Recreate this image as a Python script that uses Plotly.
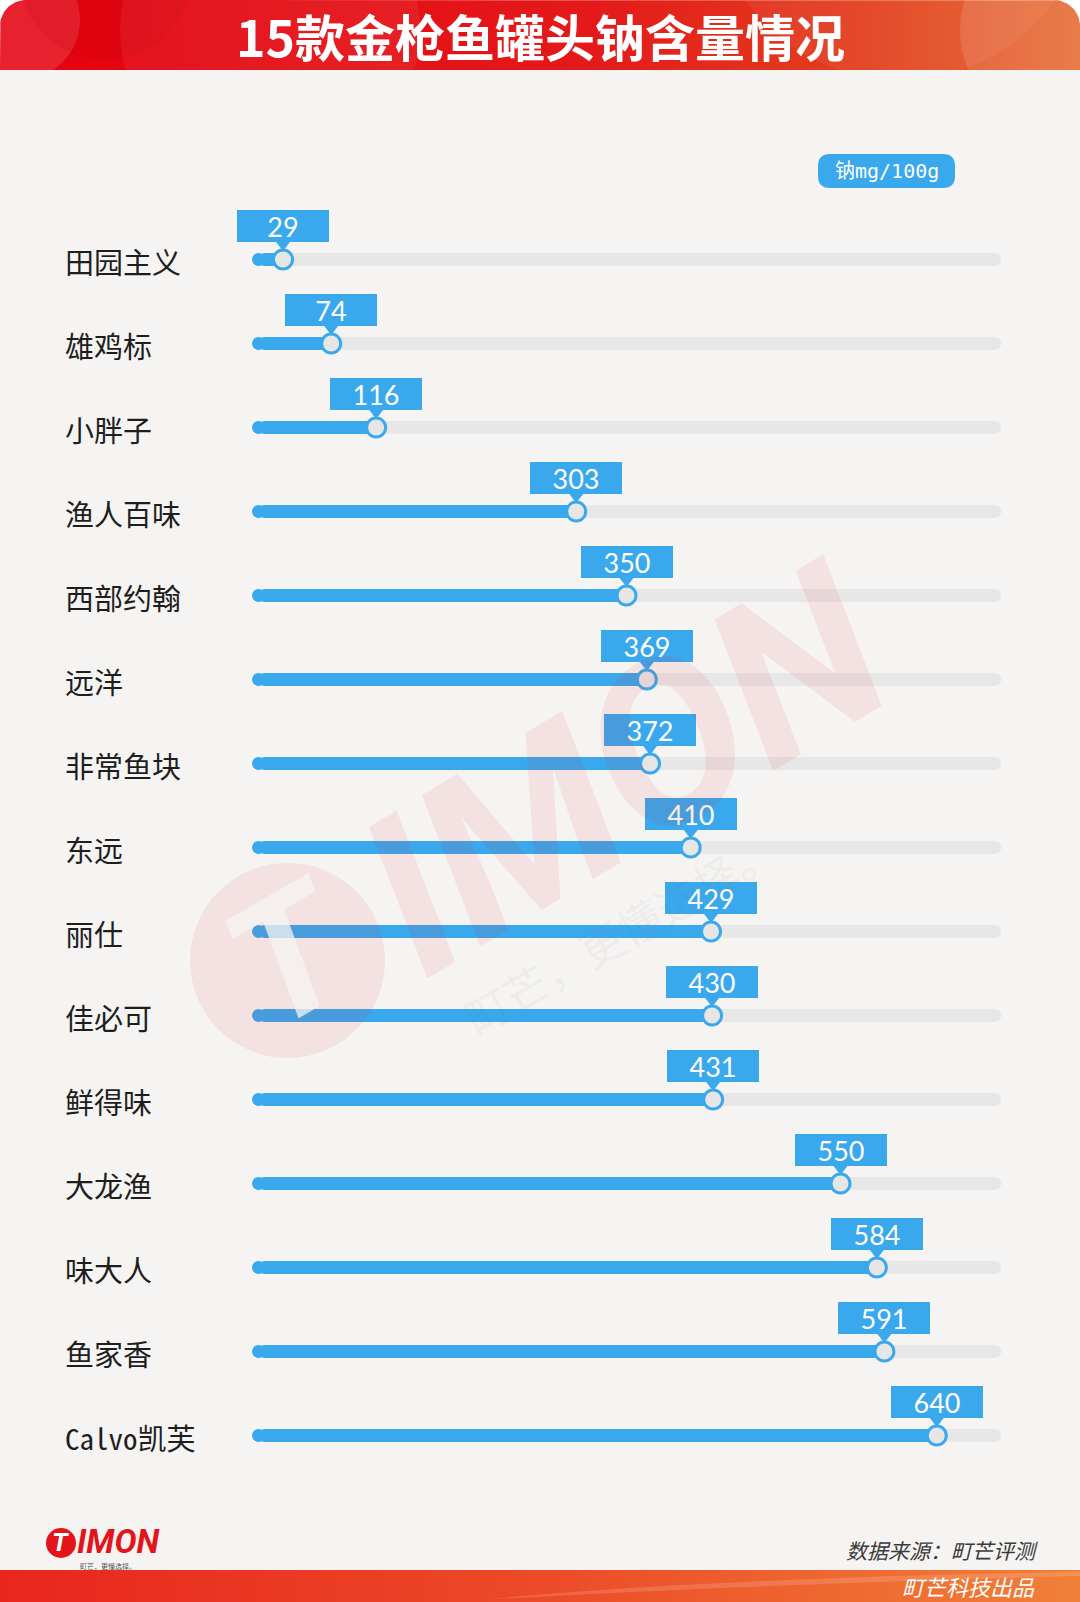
import numpy as np
import plotly.graph_objects as go

W, H = 1080, 1602

# ---------------- data ----------------
brands = ["田园主义", "雄鸡标", "小胖子", "渔人百味", "西部约翰", "远洋", "非常鱼块", "东远",
          "丽仕", "佳必可", "鲜得味", "大龙渔", "味大人", "鱼家香", "Calvo凯芙"]
sodium = [29, 74, 116, 303, 350, 369, 372, 410, 429, 430, 431, 550, 584, 591, 640]
track_max = 700
title = "15款金枪鱼罐头钠含量情况"
unit_label = "钠mg/100g"
source_text = "数据来源：町芒评测"
producer_text = "町芒科技出品"
logo_text = "IMON"
logo_tag = "町芒，更懂选择。"

# ---------------- style ----------------
BLUE = "#3AA8EC"
TRACK = "#E7E7E7"
BG = "#F5F4F2"
CJK = "Noto Sans CJK SC"
LABEL_FONT = "Noto Sans Mono CJK SC, Noto Sans CJK SC, sans-serif"
MONO = "DejaVu Sans Mono, Noto Sans CJK SC, monospace"


def px(x):
    return x / W


def py(y):
    return 1 - y / H


rows = list(range(len(brands)))
ROW0, STEP = 259.5, 84.0
y_top = ROW0 - 0.7 * STEP
y_bot = ROW0 + (len(brands) - 1 + 0.7) * STEP
BAR_PX = 13
BAR_W = BAR_PX / STEP
X0_PX, X1_PX = 252, 1001
UNIT_PX = (X1_PX - X0_PX) / track_max
CAP = (BAR_PX / 2) / UNIT_PX          # round-cap radius in data units
caps = [CAP] * len(rows)

fig = go.Figure()

# tracks (rounded right end by cornerradius, left end by round cap)
fig.add_trace(go.Bar(y=rows, x=[track_max - CAP] * len(rows), base=caps, orientation="h", width=BAR_W,
                     marker=dict(color=TRACK, cornerradius=7, line=dict(width=0)),
                     hoverinfo="skip", showlegend=False))
# values
fig.add_trace(go.Bar(y=rows, x=[v - CAP for v in sodium], base=caps, orientation="h", width=BAR_W,
                     marker=dict(color=BLUE, cornerradius=7, line=dict(width=0)),
                     hoverinfo="skip", showlegend=False))
# left round caps
fig.add_trace(go.Scatter(x=caps, y=rows, mode="markers",
                         marker=dict(size=BAR_PX, color=BLUE, line=dict(width=0)),
                         cliponaxis=False, hoverinfo="skip", showlegend=False))
# pointer triangles
fig.add_trace(go.Scatter(x=sodium, y=[r - 14.5 / STEP for r in rows], mode="markers",
                         marker=dict(symbol="triangle-down", size=12, color=BLUE, line=dict(width=0)),
                         cliponaxis=False, hoverinfo="skip", showlegend=False))
# knobs
fig.add_trace(go.Scatter(x=sodium, y=rows, mode="markers",
                         marker=dict(size=19, color="#E6E6E6", line=dict(color=BLUE, width=3)),
                         cliponaxis=False, hoverinfo="skip", showlegend=False))

annotations = []
for r, name, v in zip(rows, brands, sodium):
    annotations.append(dict(x=px(63), xref="paper", y=r, yref="y", text=name, showarrow=False,
                            xanchor="left", yanchor="middle", yshift=-1,
                            font=dict(family=LABEL_FONT, size=29, color="#1E1E1E")))
    annotations.append(dict(x=v, xref="x", y=r, yref="y", text=str(v), showarrow=False,
                            xanchor="center", yanchor="bottom", yshift=18,
                            width=92, height=32, bgcolor=BLUE, borderpad=0, borderwidth=0,
                            valign="middle",
                            font=dict(family="Lato, Open Sans, sans-serif", size=27, color="white")))

# header band (gradient) on its own subplot
R = 26
pts_x, pts_y = [0], [70]
for a in np.linspace(np.pi, 1.5 * np.pi, 20):
    pts_x.append(R + R * np.cos(a)); pts_y.append(R + R * np.sin(a))
for a in np.linspace(1.5 * np.pi, 2 * np.pi, 20):
    pts_x.append(W - R + R * np.cos(a)); pts_y.append(R + R * np.sin(a))
pts_x += [W, 0]; pts_y += [70, 70]
fig.add_trace(go.Scatter(x=pts_x, y=pts_y, xaxis="x2", yaxis="y2", mode="lines", fill="toself",
                         line=dict(width=0, color="rgba(0,0,0,0)"),
                         fillgradient=dict(type="horizontal",
                                           colorscale=[[0, "#E4000F"], [0.55, "#E41A1A"], [0.8, "#E2401F"], [1, "#E56A30"]]),
                         hoverinfo="skip", showlegend=False))
# footer band
fig.add_trace(go.Scatter(x=[0, W, W, 0, 0], y=[1570, 1570, 1602, 1602, 1570], xaxis="x3", yaxis="y3",
                         mode="lines", fill="toself", line=dict(width=0, color="rgba(0,0,0,0)"),
                         fillgradient=dict(type="horizontal",
                                           colorscale=[[0, "#E8261D"], [0.5, "#EC4A28"], [1, "#F08038"]]),
                         hoverinfo="skip", showlegend=False))

shapes = [
    # white behind header corners
    dict(type="rect", xref="paper", yref="paper", x0=0, x1=1, y0=py(40), y1=1,
         fillcolor="white", line=dict(width=0), layer="below"),
    # header decorative circles
    dict(type="circle", xref="x2", yref="y2", x0=-40, x1=80, y0=-40, y1=80,
         fillcolor="rgba(255,255,255,0.13)", line=dict(width=0), layer="above"),
    dict(type="circle", xref="x2", yref="y2", x0=20, x1=190, y0=-110, y1=60,
         fillcolor="rgba(180,0,10,0.12)", line=dict(width=0), layer="above"),
    dict(type="circle", xref="x2", yref="y2", x0=120, x1=420, y0=-120, y1=180,
         fillcolor="rgba(255,255,255,0.06)", line=dict(width=0), layer="above"),
    dict(type="circle", xref="x2", yref="y2", x0=960, x1=1160, y0=-70, y1=130,
         fillcolor="rgba(255,255,255,0.12)", line=dict(width=0), layer="above"),
    dict(type="circle", xref="x2", yref="y2", x0=1090 - 380, x1=1090, y0=-300, y1=80,
         fillcolor="rgba(255,255,255,0.05)", line=dict(width=0), layer="above"),
    # footer streak
    dict(type="path", xref="x3", yref="y3",
         path="M 480 1600 Q 700 1578 1080 1572 L 1080 1576 Q 760 1584 480 1600 Z",
         fillcolor="rgba(255,255,255,0.15)", line=dict(width=0), layer="above"),
    # watermark bubble
    dict(type="circle", xref="paper", yref="paper", x0=px(190), x1=px(385), y0=py(1058), y1=py(863),
         fillcolor="rgba(230,40,50,0.09)", line=dict(width=0), layer="above"),
    # logo circle
    dict(type="circle", xref="paper", yref="paper", x0=px(46), x1=px(76), y0=py(1558), y1=py(1528),
         fillcolor="#E3141B", line=dict(width=0), layer="above"),
]

# unit badge (rounded rect)
bx0, bx1, by0, by1, rr = 818, 955, 154, 188, 12
badge = (f"M {px(bx0 + rr)} {py(by0)} L {px(bx1 - rr)} {py(by0)} Q {px(bx1)} {py(by0)} {px(bx1)} {py(by0 + rr)} "
         f"L {px(bx1)} {py(by1 - rr)} Q {px(bx1)} {py(by1)} {px(bx1 - rr)} {py(by1)} "
         f"L {px(bx0 + rr)} {py(by1)} Q {px(bx0)} {py(by1)} {px(bx0)} {py(by1 - rr)} "
         f"L {px(bx0)} {py(by0 + rr)} Q {px(bx0)} {py(by0)} {px(bx0 + rr)} {py(by0)} Z")
shapes.append(dict(type="path", xref="paper", yref="paper", path=badge,
                   fillcolor=BLUE, line=dict(width=0), layer="above"))

annotations += [
    dict(x=0.5, y=py(35), xref="paper", yref="paper", text=f"<b>{title}</b>", showarrow=False,
         xanchor="center", yanchor="middle", font=dict(family=CJK, size=50, color="white", weight=900)),
    dict(x=px((bx0 + bx1) / 2), y=py((by0 + by1) / 2), xref="paper", yref="paper", text=unit_label,
         showarrow=False, xanchor="center", yanchor="middle",
         font=dict(family=MONO, size=20, color="white")),
    # watermark
    dict(x=px(292), y=py(955), xref="paper", yref="paper", text="<b><i>T</i></b>", showarrow=False,
         textangle=-30, xanchor="center", yanchor="middle",
         font=dict(family="Roboto, sans-serif", size=170, color="rgba(245,244,242,0.75)")),
    dict(x=px(625), y=py(770), xref="paper", yref="paper", text="<b><i>IMON</i></b>", showarrow=False,
         textangle=-31, xanchor="center", yanchor="middle",
         font=dict(family="Roboto, sans-serif", size=225, color="rgba(230,40,50,0.09)")),
    dict(x=px(620), y=py(932), xref="paper", yref="paper", text="町芒，更懂选择。", showarrow=False,
         textangle=-30, xanchor="center", yanchor="middle",
         font=dict(family=CJK, size=44, color="rgba(120,120,120,0.08)")),
    # logo
    dict(x=px(61), y=py(1542), xref="paper", yref="paper", text="<b><i>T</i></b>", showarrow=False,
         xanchor="center", yanchor="middle", font=dict(family="Roboto", size=26, color="white")),
    dict(x=px(75), y=py(1541), xref="paper", yref="paper", text=f"<b><i>{logo_text}</i></b>", showarrow=False,
         xanchor="left", yanchor="middle", font=dict(family="Roboto", size=33, color="#E3141B")),
    dict(x=px(78), y=py(1566), xref="paper", yref="paper", text=logo_tag, showarrow=False,
         xanchor="left", yanchor="middle", font=dict(family=CJK, size=7, color="#555")),
    # footer texts
    dict(x=px(1040), y=py(1550), xref="paper", yref="paper", text=f"<i>{source_text}</i>", showarrow=False,
         xanchor="right", yanchor="middle", font=dict(family=CJK, size=21, color="#3A3A3A")),
    dict(x=px(1037), y=py(1586), xref="paper", yref="paper", text=f"<i>{producer_text}</i>", showarrow=False,
         xanchor="right", yanchor="middle", font=dict(family=CJK, size=22, color="white")),
]

fig.update_layout(
    width=W, height=H, autosize=False,
    margin=dict(l=0, r=0, t=0, b=0, pad=0),
    paper_bgcolor=BG, plot_bgcolor="rgba(0,0,0,0)",
    barmode="overlay", showlegend=False,
    xaxis=dict(domain=[px(X0_PX), px(X1_PX)], range=[0, track_max], visible=False, fixedrange=True),
    yaxis=dict(domain=[py(y_bot), py(y_top)], range=[len(brands) - 1 + 0.7, -0.7],
               visible=False, fixedrange=True),
    xaxis2=dict(domain=[0, 1], range=[0, W], anchor="y2", visible=False, fixedrange=True),
    yaxis2=dict(domain=[py(70), 1], range=[70, 0], anchor="x2", visible=False, fixedrange=True),
    xaxis3=dict(domain=[0, 1], range=[0, W], anchor="y3", visible=False, fixedrange=True),
    yaxis3=dict(domain=[0, py(1570)], range=[1602, 1570], anchor="x3", visible=False, fixedrange=True),
    shapes=shapes,
    annotations=annotations,
)

fig.write_html("out.html")
